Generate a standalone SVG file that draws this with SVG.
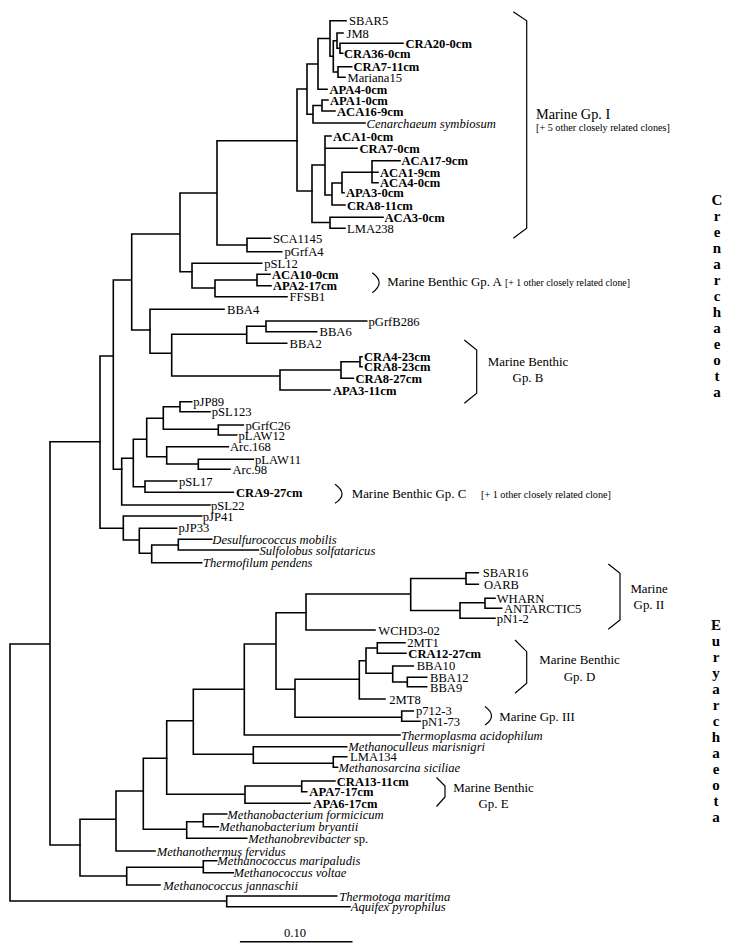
<svg xmlns="http://www.w3.org/2000/svg" width="736" height="952" viewBox="0 0 736 952">
<style>
text{font-family:"Liberation Serif","Times New Roman",serif;font-size:12.6px;fill:#000}
.b{font-weight:bold}
.i{font-style:italic}
.lb{font-size:12.9px}
.big{font-size:14.3px}
.sm{font-size:10.2px}
.xs{font-size:9.8px}
.m{text-anchor:middle}
.ph{font-weight:bold;font-size:15px;text-anchor:middle}
.e{stroke:#000;stroke-width:1.6;fill:none;stroke-linecap:square}
.br{stroke:#000;stroke-width:1.2;fill:none}
</style>
<rect width="736" height="952" fill="#fff"/>
<g id="connectors" class="e">
<path d="M10,644 V901 M10,644 H50 M10,901 H226.7 M226.7,896 V906.7 M226.7,896 H336.7 M226.7,906.7 H350 M50,441.7 V845 M50,441.7 H100 M50,845 H80"/>
<path d="M100,356 V528.3 M100,356 H113.3 M100,528.3 H123.3 M113.3,280 V469.3 M113.3,280 H131.7 M113.3,469.3 H121.7 M131.7,234 V330 M131.7,234 H180 M131.7,330 H150 M180,193 V271.7 M180,193 H217 M180,271.7 H192 M217,140.7 V245 M217,140.7 H297 M217,245 H247 M247,238.3 V251.7 M247,238.3 H270.7 M247,251.7 H281.7"/>
<path d="M297,89 V191 M297,89 H307 M297,191 H312 M307,64 V114.3 M307,64 H318 M307,114.3 H313 M318,38.5 V89.3 M318,38.5 H330 M318,89.3 H327 M330,20.7 V56.3 M330,20.7 H346 M330,56.3 H333.3 M333.3,40.7 V72 M333.3,40.7 H337 M333.3,72 H338 M337,33 V48.3 M337,33 H343 M337,48.3 H340 M340,43.3 V53.3 M340,43.3 H403 M340,53.3 H342.7 M338,66.7 V77.3 M338,66.7 H351.7 M338,77.3 H345 M313,105.5 V123 M313,105.5 H322 M313,123 H365 M322,100 V111 M322,100 H328 M322,111 H335"/>
<path d="M312,165 V222.5 M312,165 H325 M312,222.5 H330 M325,136 V195 M325,136 H331 M325,148.3 H357 M325,195 H332 M332,183 V205 M332,183 H342 M332,205 H345 M342,172.3 V192.7 M342,172.3 H372 M342,192.7 H344 M372,160.7 V182.7 M372,160.7 H400 M372,172.3 H378 M372,182.7 H378 M330,217.3 V228.3 M330,217.3 H383 M330,228.3 H345"/>
<path d="M192,263.3 V288 M192,263.3 H261.7 M192,288 H215 M215,280 V296.7 M215,280 H257 M215,296.7 H287 M257,274.3 V285.7 M257,274.3 H270 M257,285.7 H271"/>
<path d="M150,309.3 V353.3 M150,309.3 H224 M150,353.3 H171.7 M171.7,334.3 V376 M171.7,334.3 H246.7 M171.7,376 H280 M246.7,326.3 V343.3 M246.7,326.3 H266 M246.7,343.3 H286.7 M266,321 V331.7 M266,321 H366.7 M266,331.7 H316.7 M280,370 V390 M280,370 H341 M280,390 H330 M341,361.7 V378.3 M341,361.7 H360 M341,378.3 H353.3 M360,356.7 V366.7 M360,356.7 H362 M360,366.7 H362"/>
<path d="M121.7,458.3 V505 M121.7,458.3 H133.3 M121.7,505 H210 M133.3,439.3 V486.7 M133.3,439.3 H146.7 M133.3,486.7 H145 M146.7,418.3 V456.7 M146.7,418.3 H163.3 M146.7,456.7 H166.7 M163.3,406.7 V429.3 M163.3,406.7 H180 M163.3,429.3 H218.3 M180,401.7 V411.7 M180,401.7 H191.7 M180,411.7 H210 M218.3,425 V435 M218.3,425 H243.3 M218.3,435 H236.7 M166.7,446.7 V464 M166.7,446.7 H228.3 M166.7,464 H198.3 M198.3,459.3 V469.3 M198.3,459.3 H253.3 M198.3,469.3 H230 M145,481 V492.3 M145,481 H176.7 M145,492.3 H233.3"/>
<path d="M123.3,516 V540 M123.3,516 H201.7 M123.3,540 H139.3 M139.3,528.3 V553.3 M139.3,528.3 H176.7 M139.3,553.3 H151.7 M151.7,545 V562.7 M151.7,545 H178.3 M151.7,562.7 H201.7 M178.3,539.3 V550 M178.3,539.3 H211.7 M178.3,550 H258.3"/>
<path d="M80,819.3 V876 M80,819.3 H116 M80,876 H126.7 M116,791 V851 M116,791 H143.3 M116,851 H155 M126.7,867.3 V885 M126.7,867.3 H203.3 M126.7,885 H160 M203.3,860.7 V872.7 M203.3,860.7 H216.7 M203.3,872.7 H233.3 M143.3,758.3 V829.3 M143.3,758.3 H166.7 M143.3,829.3 H186.7 M186.7,821.7 V838.3 M186.7,821.7 H203.3 M186.7,838.3 H246.7 M203.3,814 V826.7 M203.3,814 H226.7 M203.3,826.7 H218.3"/>
<path d="M166.7,720.7 V794.3 M166.7,720.7 H193.3 M166.7,794.3 H245 M245,786 V803.3 M245,786 H301.7 M245,803.3 H310 M301.7,781 V791.7 M301.7,781 H335 M301.7,791.7 H306.7 M193.3,689.3 V754.3 M193.3,689.3 H244.3 M193.3,754.3 H253.3 M253.3,746.7 V763.3 M253.3,746.7 H346.7 M253.3,763.3 H333.3 M333.3,756.7 V767.3 M333.3,756.7 H346.7 M333.3,767.3 H337.5"/>
<path d="M244.3,644 V735 M244.3,644 H276 M244.3,735 H400 M276,612.7 V689.3 M276,612.7 H306 M276,689.3 H295 M295,679.3 V717.3 M295,679.3 H359.3 M295,717.3 H401.7 M401.7,711 V721.3 M401.7,711 H413.3 M401.7,721.3 H420 M359.3,660.7 V699 M359.3,660.7 H366 M359.3,699 H385 M366,648 V673.3 M366,648 H377.3 M366,673.3 H392.7 M377.3,642.7 V653.3 M377.3,642.7 H405 M377.3,653.3 H406 M392.7,666 V682 M392.7,666 H413.3 M392.7,682 H407.3 M407.3,677.3 V686.7 M407.3,677.3 H426.7 M407.3,686.7 H426.7"/>
<path d="M306,594 V630 M306,594 H410.7 M306,630 H375 M410.7,578.5 V610.5 M410.7,578.5 H466 M410.7,610.5 H460 M466,572.7 V584.3 M466,572.7 H478.3 M466,584.3 H478.3 M460,602.7 V618.3 M460,602.7 H485 M460,618.3 H495 M485,598.3 V608.3 M485,598.3 H495 M485,608.3 H501.7"/>
</g>
<g id="leaves">
<g id="n-SBAR5"><text x="349" y="25.2">SBAR5</text></g>
<g id="n-JM8"><text x="346.5" y="37.5">JM8</text></g>
<g id="n-CRA20-0cm"><text class="b" x="405.5" y="47.8">CRA20-0cm</text></g>
<g id="n-CRA36-0cm"><text class="b" x="344" y="57.8">CRA36-0cm</text></g>
<g id="n-CRA7-11cm"><text class="b" x="353.5" y="71.2">CRA7-11cm</text></g>
<g id="n-Mariana15"><text x="347.5" y="81.8">Mariana15</text></g>
<g id="n-APA4-0cm"><text class="b" x="329.5" y="93.8">APA4-0cm</text></g>
<g id="n-APA1-0cm"><text class="b" x="330" y="104.5">APA1-0cm</text></g>
<g id="n-ACA16-9cm"><text class="b" x="337" y="115.5">ACA16-9cm</text></g>
<g id="n-Cenarchaeum"><text class="i" x="366.5" y="127.5">Cenarchaeum symbiosum</text></g>
<g id="n-ACA1-0cm"><text class="b" x="333" y="140.5">ACA1-0cm</text></g>
<g id="n-CRA7-0cm"><text class="b" x="359.5" y="152.8">CRA7-0cm</text></g>
<g id="n-ACA17-9cm"><text class="b" x="401.5" y="165.2">ACA17-9cm</text></g>
<g id="n-ACA1-9cm"><text class="b" x="380" y="176.8">ACA1-9cm</text></g>
<g id="n-ACA4-0cm"><text class="b" x="380" y="187.2">ACA4-0cm</text></g>
<g id="n-APA3-0cm"><text class="b" x="346" y="197.2">APA3-0cm</text></g>
<g id="n-CRA8-11cm"><text class="b" x="347" y="209.5">CRA8-11cm</text></g>
<g id="n-ACA3-0cm"><text class="b" x="384.5" y="221.8">ACA3-0cm</text></g>
<g id="n-LMA238"><text x="347" y="232.8">LMA238</text></g>
<g id="n-SCA1145"><text x="273" y="242.8">SCA1145</text></g>
<g id="n-pGrfA4"><text x="284.5" y="256.2">pGrfA4</text></g>
<g id="n-pSL12"><text x="264.3" y="267.8">pSL12</text></g>
<g id="n-ACA10-0cm"><text class="b" x="272" y="278.8">ACA10-0cm</text></g>
<g id="n-APA2-17cm"><text class="b" x="273" y="290.2">APA2-17cm</text></g>
<g id="n-FFSB1"><text x="289.5" y="301.2">FFSB1</text></g>
<g id="n-BBA4"><text x="227" y="313.8">BBA4</text></g>
<g id="n-pGrfB286"><text x="368.5" y="325.5">pGrfB286</text></g>
<g id="n-BBA6"><text x="319.5" y="336.2">BBA6</text></g>
<g id="n-BBA2"><text x="289.5" y="347.8">BBA2</text></g>
<g id="n-CRA4-23cm"><text class="b" x="364" y="361">CRA4-23cm</text></g>
<g id="n-CRA8-23cm"><text class="b" x="364" y="371.4">CRA8-23cm</text></g>
<g id="n-CRA8-27cm"><text class="b" x="355.5" y="382.8">CRA8-27cm</text></g>
<g id="n-APA3-11cm"><text class="b" x="333" y="394.5">APA3-11cm</text></g>
<g id="n-pJP89"><text x="193.3" y="406.2">pJP89</text></g>
<g id="n-pSL123"><text x="211.7" y="416.2">pSL123</text></g>
<g id="n-pGrfC26"><text x="245.5" y="429.5">pGrfC26</text></g>
<g id="n-pLAW12"><text x="238.5" y="439.5">pLAW12</text></g>
<g id="n-Arc.168"><text x="230" y="451.2">Arc.168</text></g>
<g id="n-pLAW11"><text x="255" y="463.8">pLAW11</text></g>
<g id="n-Arc.98"><text x="232.5" y="473.8">Arc.98</text></g>
<g id="n-pSL17"><text x="179" y="485.5">pSL17</text></g>
<g id="n-CRA9-27cm"><text class="b" x="236" y="496.8">CRA9-27cm</text></g>
<g id="n-pSL22"><text x="211" y="509.5">pSL22</text></g>
<g id="n-pJP41"><text x="202.7" y="520.5">pJP41</text></g>
<g id="n-pJP33"><text x="178.5" y="531.5">pJP33</text></g>
<g id="n-Desulfurococcus"><text class="i" x="212.3" y="543.5">Desulfurococcus mobilis</text></g>
<g id="n-Sulfolobus"><text class="i" x="259.5" y="554.5">Sulfolobus solfataricus</text></g>
<g id="n-Thermofilum"><text class="i" x="203" y="567.2">Thermofilum pendens</text></g>
<g id="n-SBAR16"><text x="482.7" y="577.2">SBAR16</text></g>
<g id="n-OARB"><text x="484" y="588.8">OARB</text></g>
<g id="n-WHARN"><text x="496.7" y="602.6">WHARN</text></g>
<g id="n-ANTARCTIC5"><text x="504" y="612.8">ANTARCTIC5</text></g>
<g id="n-pN1-2"><text x="496.7" y="623">pN1-2</text></g>
<g id="n-WCHD3-02"><text x="378.3" y="634.5">WCHD3-02</text></g>
<g id="n-2MT1"><text x="407.3" y="647">2MT1</text></g>
<g id="n-CRA12-27cm"><text class="b" x="408.3" y="658">CRA12-27cm</text></g>
<g id="n-BBA10"><text x="416.7" y="670.3">BBA10</text></g>
<g id="n-BBA12"><text x="430" y="681.5">BBA12</text></g>
<g id="n-BBA9"><text x="430" y="691.6">BBA9</text></g>
<g id="n-2MT8"><text x="389.3" y="703.5">2MT8</text></g>
<g id="n-p712-3"><text x="416" y="715.3">p712-3</text></g>
<g id="n-pN1-73"><text x="421.7" y="726">pN1-73</text></g>
<g id="n-Thermoplasma"><text class="i" x="401" y="739.5">Thermoplasma acidophilum</text></g>
<g id="n-Methanoculleus"><text class="i" x="348.3" y="751">Methanoculleus marisnigri</text></g>
<g id="n-LMA134"><text x="350" y="761.2">LMA134</text></g>
<g id="n-Methanosarcina"><text class="i" x="338.5" y="772">Methanosarcina siciliae</text></g>
<g id="n-CRA13-11cm"><text class="b" x="336.7" y="785.5">CRA13-11cm</text></g>
<g id="n-APA7-17cm"><text class="b" x="309.3" y="796.2">APA7-17cm</text></g>
<g id="n-APA6-17cm"><text class="b" x="313.3" y="807.8">APA6-17cm</text></g>
<g id="n-M-formicicum"><text class="i" x="227.3" y="818.5">Methanobacterium formicicum</text></g>
<g id="n-M-bryantii"><text class="i" x="219.3" y="831.2">Methanobacterium bryantii</text></g>
<g id="n-Methanobrevibacter"><text x="248.3" y="842.8"><tspan class="i">Methanobrevibacter</tspan> sp.</text></g>
<g id="n-Methanothermus"><text class="i" x="156.7" y="855.5">Methanothermus fervidus</text></g>
<g id="n-M-maripaludis"><text class="i" x="217.3" y="865.2">Methanococcus maripaludis</text></g>
<g id="n-M-voltae"><text class="i" x="233.5" y="877.2">Methanococcus voltae</text></g>
<g id="n-M-jannaschii"><text class="i" x="163.3" y="889.5">Methanococcus jannaschii</text></g>
<g id="n-Thermotoga"><text class="i" x="339.3" y="900.5">Thermotoga maritima</text></g>
<g id="n-Aquifex"><text class="i" x="350.7" y="911.2">Aquifex pyrophilus</text></g>
</g>
<g id="groups">
<g id="g-marine-I"><polyline class="br" points="513.3,11.7 526.7,20.7 526.7,228.3 513.3,238.3"/><text class="big" x="536" y="119.3">Marine Gp. I</text><text class="sm" x="536" y="130.5">[+ 5 other closely related clones]</text></g>
<g id="g-benthic-A"><path class="br" d="M372.3,272.7 Q386,283 372.3,292.7"/><text class="lb" x="387.3" y="286">Marine Benthic Gp. A</text><text class="xs" x="505" y="286">[+ 1 other closely related clone]</text></g>
<g id="g-benthic-B"><polyline class="br" points="464.3,340 476.7,350 476.7,393.3 464.3,403.3"/><text class="m lb" x="528" y="366">Marine Benthic</text><text class="m lb" x="528" y="381.7">Gp. B</text></g>
<g id="g-benthic-C"><path class="br" d="M335,484.3 Q349,494 335,503.3"/><text class="lb" x="351.7" y="497.6">Marine Benthic Gp. C</text><text class="sm" x="481" y="497.6">[+ 1 other closely related clone]</text></g>
<g id="g-marine-II"><polyline class="br" points="608.3,564 620,573.3 620,620 608.3,629.3"/><text class="m lb" x="649" y="592.7">Marine</text><text class="m lb" x="649" y="609">Gp. II</text></g>
<g id="g-benthic-D"><polyline class="br" points="515,640 526.7,651.7 526.7,683.3 515,693.3"/><text class="m lb" x="579.5" y="664">Marine Benthic</text><text class="m lb" x="579.5" y="680.5">Gp. D</text></g>
<g id="g-marine-III"><path class="br" d="M485,706.5 Q498,716 485,725"/><text class="lb" x="499.3" y="720.5">Marine Gp. III</text></g>
<g id="g-benthic-E"><polyline class="br" points="436.5,777.5 445,786 445,797 436.5,806.5"/><text class="m lb" x="493.5" y="791.7">Marine Benthic</text><text class="m lb" x="493.5" y="808.3">Gp. E</text></g>
</g>
<g id="phyla">
<g id="p-Crenarchaeota"><text class="ph"><tspan x="717" y="205">C</tspan><tspan x="717" y="221">r</tspan><tspan x="717" y="237">e</tspan><tspan x="717" y="253">n</tspan><tspan x="717" y="269">a</tspan><tspan x="717" y="285">r</tspan><tspan x="717" y="301">c</tspan><tspan x="717" y="317">h</tspan><tspan x="717" y="333">a</tspan><tspan x="717" y="349">e</tspan><tspan x="717" y="365">o</tspan><tspan x="717" y="381">t</tspan><tspan x="717" y="397">a</tspan></text></g>
<g id="p-Euryarchaeota"><text class="ph"><tspan x="716" y="630">E</tspan><tspan x="716" y="646">u</tspan><tspan x="716" y="662">r</tspan><tspan x="716" y="678">y</tspan><tspan x="716" y="694">a</tspan><tspan x="716" y="710">r</tspan><tspan x="716" y="726">c</tspan><tspan x="716" y="742">h</tspan><tspan x="716" y="758">a</tspan><tspan x="716" y="774">e</tspan><tspan x="716" y="790">o</tspan><tspan x="716" y="806">t</tspan><tspan x="716" y="822">a</tspan></text></g>
</g>
<g id="scale"><path class="e" d="M240.7,941.7 H351.7"/><text class="m" x="295" y="936.5">0.10</text></g>
</svg>
